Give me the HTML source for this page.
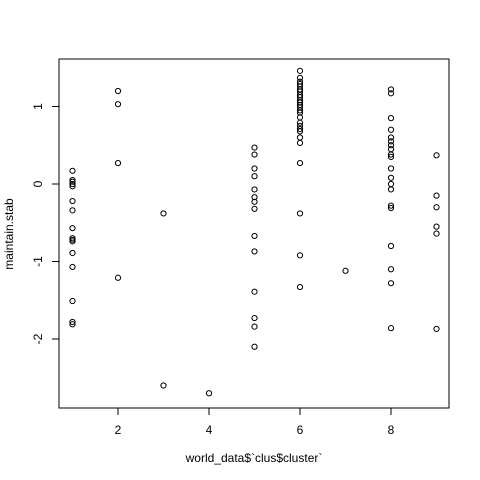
<!DOCTYPE html>
<html><head><meta charset="utf-8"><style>body{margin:0;background:#fff}svg{display:block}text{font-family:"Liberation Sans",sans-serif;font-size:12px;fill:#000}</style></head>
<body>
<svg id="chart" width="480" height="480" xmlns="http://www.w3.org/2000/svg">
<rect x="59" y="59" width="390" height="349" fill="none" stroke="#000"/>
<g id="axes"></g><g id="pts"></g>
<text x="254" y="462" text-anchor="middle">world_data$`clus$cluster`</text>
<text transform="translate(13,234) rotate(-90)" text-anchor="middle">maintain.stab</text>
</svg>
<script>
const clusters=[1,2,3,4,5,6,7,8,9];
const values=[
[0.17,0.05,0.03,0,-0.03,-0.22,-0.34,-0.57,-0.70,-0.72,-0.74,-0.89,-1.07,-1.51,-1.78,-1.81],
[1.2,1.03,0.27,-1.21],
[-0.38,-2.6],
[-2.7],
[0.47,0.38,0.2,0.1,-0.07,-0.17,-0.23,-0.32,-0.67,-0.87,-1.39,-1.73,-1.84,-2.1],
[1.46,1.37,1.32,1.29,1.26,1.22,1.19,1.15,1.12,1.08,1.05,1.02,0.99,0.95,0.92,0.86,0.79,0.75,0.71,0.68,0.6,0.53,0.27,-0.38,-0.92,-1.33],
[-1.12],
[1.22,1.17,0.85,0.7,0.6,0.55,0.5,0.45,0.38,0.35,0.2,0.08,0.0,-0.07,-0.28,-0.31,-0.8,-1.1,-1.28,-1.86],
[0.37,-0.15,-0.3,-0.55,-0.64,-1.87]];
const xTicks=[2,4,6,8];
const yTicks=[-2,-1,0,1];
const NS="http://www.w3.org/2000/svg";
const xs=v=>72.5+(v-1)*45.5;
const ys=v=>184-v*77.5;
const ax=document.getElementById('axes'),pg=document.getElementById('pts');
function mk(t,a,p){const e=document.createElementNS(NS,t);for(const k in a)e.setAttribute(k,a[k]);p.appendChild(e);return e;}
xTicks.forEach(t=>{const l=mk('line',{x1:xs(t),x2:xs(t),y1:408,y2:415,stroke:'#000'},ax);


const tx=mk('text',{x:xs(t),y:434,'text-anchor':'middle'},ax);tx.textContent=t;

});
yTicks.forEach(t=>{const l=mk('line',{x1:52,x2:59,y1:ys(t),y2:ys(t),stroke:'#000'},ax);


const tx=mk('text',{transform:`translate(42,${ys(t)}) rotate(-90)`,'text-anchor':'middle'},ax);tx.textContent=t;

});
clusters.forEach((c,i)=>values[i].forEach(v=>{const p=mk('circle',{cx:xs(c),cy:ys(v),r:2.6,fill:'none',stroke:'#000','stroke-width':1},pg);

}));
</script>
</body></html>
